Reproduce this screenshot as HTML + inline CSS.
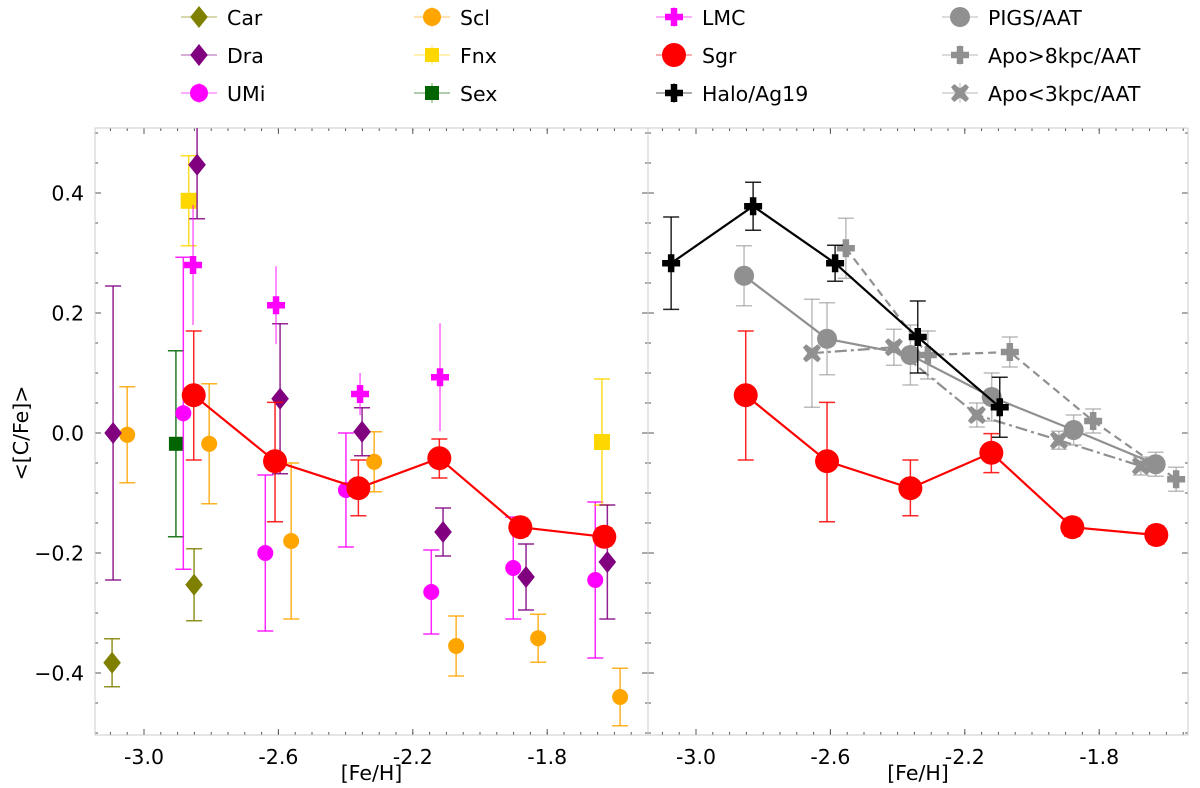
<!DOCTYPE html>
<html><head><meta charset="utf-8">
<style>
html,body{margin:0;padding:0;background:#fff;}
svg{display:block;font-family:"DejaVu Sans","Liberation Sans",sans-serif;}
</style></head>
<body>
<svg id="chart" width="1200" height="788" viewBox="0 0 1200 788" xmlns="http://www.w3.org/2000/svg"></svg>
<script>
// ---- data ----
const sgrX=[-2.852,-2.61,-2.362,-2.121,-1.88,-1.63];
const sgrYLeft=[0.063,-0.047,-0.092,-0.042,-0.157,-0.173];
const sgrYRight=[0.063,-0.047,-0.092,-0.033,-0.157,-0.170];
const sgrErrUp=[0.107,0.098,0.047,0.032,0.015,0.015];
const sgrErrDn=[0.108,0.101,0.046,0.033,0.015,0.015];
const carX=[-3.095,-2.851], carY=[-0.383,-0.253], carErr=[0.04,0.06];
const draX=[-3.092,-2.842,-2.595,-2.351,-2.11,-1.863,-1.621];
const draY=[0.0,0.447,0.057,0.002,-0.165,-0.24,-0.215];
const draErr=[0.245,0.09,0.125,0.04,0.04,0.055,0.095];
const umiX=[-2.883,-2.639,-2.399,-2.145,-1.901,-1.657];
const umiY=[0.033,-0.2,-0.095,-0.265,-0.225,-0.245];
const umiErr=[0.26,0.13,0.095,0.07,0.085,0.13];
const sclX=[-3.05,-2.806,-2.562,-2.315,-2.071,-1.827,-1.583];
const sclY=[-0.003,-0.018,-0.18,-0.048,-0.355,-0.342,-0.44];
const sclErr=[0.08,0.1,0.13,0.05,0.05,0.04,0.048];
const fnxX=[-2.867,-1.637], fnxY=[0.387,-0.015], fnxErr=[0.075,0.105];
const sexX=[-2.905], sexY=[-0.018], sexErr=[0.155];
const lmcX=[-2.854,-2.607,-2.357,-2.119], lmcY=[0.28,0.213,0.065,0.093], lmcErr=[0.1,0.065,0.035,0.09];
const haloX=[-3.074,-2.83,-2.586,-2.34,-2.096], haloY=[0.283,0.378,0.283,0.16,0.043];
const haloErr=[0.077,0.04,0.03,0.06,0.05];
const pigsX=[-2.857,-2.61,-2.362,-2.12,-1.876,-1.632], pigsY=[0.262,0.157,0.13,0.06,0.005,-0.052];
const pigsErr=[0.05,0.06,0.05,0.04,0.025,0.02];
const apoHiX=[-2.554,-2.31,-2.066,-1.818,-1.571], apoHiY=[0.308,0.13,0.135,0.02,-0.077];
const apoHiErr=[0.05,0.04,0.025,0.02,0.02];
const apoLoX=[-2.655,-2.411,-2.164,-1.92,-1.676], apoLoY=[0.133,0.143,0.03,-0.012,-0.055];
const apoLoErr=[0.09,0.03,0.02,0.015,0.015];
const xTicks=[-3.0,-2.6,-2.2,-1.8];
const yTicks=[0.4,0.2,0.0,-0.2,-0.4];

// ---- geometry ----
const svg=document.getElementById('chart');
const NS='http://www.w3.org/2000/svg';
const plotTop=128,plotBot=735;
const yMap=v=>433-600*v;
const panels=[{x0:95,x1:648,ref:144,name:'left'},{x0:648,x1:1188,ref:696,name:'right'}];
const xf=p=>v=>p.ref+(v+3)*336;
function el(tag,attrs,parent){const e=document.createElementNS(NS,tag);for(const k in attrs)e.setAttribute(k,attrs[k]);(parent||svg).appendChild(e);return e;}

function marker(g,type,cx,cy,color,s){
  let e;
  if(type==='circle') e=el('circle',{cx,cy,r:s,fill:color},g);
  else if(type==='diamond') e=el('polygon',{points:`${cx},${cy-s} ${cx+s*0.8},${cy} ${cx},${cy+s} ${cx-s*0.8},${cy}`,fill:color},g);
  else if(type==='square') e=el('rect',{x:cx-s,y:cy-s,width:2*s,height:2*s,fill:color},g);
  else if(type==='plus'){const t=s*0.36;e=el('path',{d:`M${cx-t},${cy-s}h${2*t}v${s-t}h${s-t}v${2*t}h${-(s-t)}v${s-t}h${-2*t}v${-(s-t)}h${-(s-t)}v${-2*t}h${s-t}z`,fill:color},g);}
  else if(type==='x'){const t=s*0.36;e=el('path',{d:`M${cx},${cy-t*1.4}L${cx+s-t},${cy-s}L${cx+s},${cy-s+t}L${cx+t*1.4},${cy}L${cx+s},${cy+s-t}L${cx+s-t},${cy+s}L${cx},${cy+t*1.4}L${cx-s+t},${cy+s}L${cx-s},${cy+s-t}L${cx-t*1.4},${cy}L${cx-s},${cy-s+t}L${cx-s+t},${cy-s}z`,fill:color},g);}
  return e;
}
function series(p,name,X,Y,EU,ED,type,color,size,opts){
  opts=opts||{};const X2=xf(p);
  const g=el('g',{'clip-path':`url(#clip-${p.name})`});
  
  
  const ecol=opts.ecolor||color;
  X.forEach((xv,i)=>{
    const cx=X2(xv),y1=yMap(Y[i]+EU[i]),y2=yMap(Y[i]-ED[i]);
    el('line',{x1:cx,x2:cx,y1,y2,stroke:ecol,'stroke-width':opts.ew||1.5,opacity:opts.eop||0.85},g);
    if(!opts.nocap){
      el('line',{x1:cx-8,x2:cx+8,y1:y1,y2:y1,stroke:ecol,'stroke-width':1.5,opacity:opts.eop||0.85},g);
      el('line',{x1:cx-8,x2:cx+8,y1:y2,y2:y2,stroke:ecol,'stroke-width':1.5,opacity:opts.eop||0.85},g);
    }
  });
  if(opts.line){
    const l=el('polyline',{points:X.map((xv,i)=>X2(xv)+','+yMap(Y[i])).join(' '),fill:'none',stroke:opts.lcolor||color,'stroke-width':2.2,'stroke-dasharray':opts.dash||'none'},g);
    
    
  }
  X.forEach((xv,i)=>{
    const m=marker(g,type,X2(xv),yMap(Y[i]),color,size);
    
    
  });
}

const defs=el('defs',{});
panels.forEach(p=>{
  const cp=el('clipPath',{id:'clip-'+p.name},defs);
  el('rect',{x:p.x0,y:plotTop,width:p.x1-p.x0,height:plotBot-plotTop},cp);
  const X2=xf(p);
  const tg=el('g',{stroke:'#555','stroke-width':1});
  for(let k=-70;k<=-30;k++){const v=k*0.05;const px=X2(v);if(px<p.x0+1||px>p.x1-1)continue;
    el('line',{x1:px,x2:px,y1:plotBot,y2:plotBot-3},tg);el('line',{x1:px,x2:px,y1:plotTop,y2:plotTop+3},tg);}
  xTicks.forEach(v=>{const px=X2(v);el('line',{x1:px,x2:px,y1:plotBot,y2:plotBot-6},tg);el('line',{x1:px,x2:px,y1:plotTop,y2:plotTop+6},tg);
    const t=el('text',{x:px,y:plotBot+29,'text-anchor':'middle','font-size':20.5,fill:'#000',stroke:'none'});t.textContent='-'+Math.abs(v).toFixed(1);
    
    });
  for(let k=-10;k<=10;k++){const v=k*0.05;const py=yMap(v);if(py<plotTop+1||py>plotBot-1)continue;
    el('line',{x1:p.x0,x2:p.x0+3,y1:py,y2:py},tg);el('line',{x1:p.x1,x2:p.x1-3,y1:py,y2:py},tg);}
  yTicks.forEach(v=>{const py=yMap(v);el('line',{x1:p.x0,x2:p.x0+6,y1:py,y2:py},tg);el('line',{x1:p.x1,x2:p.x1-6,y1:py,y2:py},tg);
    if(p.name==='left'){const t=el('text',{x:84,y:py+7.5,'text-anchor':'end','font-size':20.5,fill:'#000',stroke:'none'});t.textContent=(v<0?'\u2212':'')+Math.abs(v).toFixed(1);
    
    }});
  const xl=el('text',{x:(p.x0+p.x1)/2,y:780,'text-anchor':'middle','font-size':20.5});xl.textContent='[Fe/H]';
  
  
});
const fr=el('rect',{x:95,y:plotTop,width:1093,height:plotBot-plotTop,fill:'none',stroke:'#ccc','stroke-width':1});


el('line',{x1:648,x2:648,y1:plotTop,y2:plotBot,stroke:'#ccc','stroke-width':1});
const yl=el('text',{x:0,y:0,'text-anchor':'middle','font-size':20.5,transform:'translate(28,433) rotate(-90)'});yl.textContent='<[C/Fe]>';



const L=panels[0],R=panels[1];
series(L,'car',carX,carY,carErr,carErr,'diamond','#808000',11);
series(L,'sex',sexX,sexY,sexErr,sexErr,'square','#006400',7);
series(L,'umi',umiX,umiY,umiErr,umiErr,'circle','#ff00ff',8);
series(L,'scl',sclX,sclY,sclErr,sclErr,'circle','#ffa500',8);
series(L,'fnx',fnxX,fnxY,fnxErr,fnxErr,'square','#ffd700',8);
series(L,'dra',draX,draY,draErr,draErr,'diamond','#800080',11);
series(L,'lmc',lmcX,lmcY,lmcErr,lmcErr,'plus','#ff00ff',9,{nocap:true,eop:0.6});
series(L,'sgr-left',sgrX,sgrYLeft,sgrErrUp,sgrErrDn,'circle','#ff0000',12,{line:true});
series(R,'apo-lt-3kpc',apoLoX,apoLoY,apoLoErr,apoLoErr,'x','#909090',9,{line:true,dash:'12 4 3 4',eop:0.6});
series(R,'apo-gt-8kpc',apoHiX,apoHiY,apoHiErr,apoHiErr,'plus','#909090',9,{line:true,dash:'8 5',eop:0.6});
series(R,'pigs',pigsX,pigsY,pigsErr,pigsErr,'circle','#909090',10,{line:true,eop:0.6});
series(R,'halo',haloX,haloY,haloErr,haloErr,'plus','#000000',9,{line:true});
series(R,'sgr-right',sgrX,sgrYRight,sgrErrUp,sgrErrDn,'circle','#ff0000',12,{line:true});

const legend=[
 ['Car','diamond','#808000',199,17],['Dra','diamond','#800080',199,55],['UMi','circle','#ff00ff',199,93],
 ['Scl','circle','#ffa500',432,17],['Fnx','square','#ffd700',432,55],['Sex','square','#006400',432,93],
 ['LMC','plus','#ff00ff',674,17],['Sgr','circle','#ff0000',674,55],['Halo/Ag19','plus','#000000',674,93],
 ['PIGS/AAT','circle','#909090',960,17],['Apo>8kpc/AAT','plus','#909090',960,55],['Apo<3kpc/AAT','x','#909090',960,93]];
const lg=el('g',{});


legend.forEach(([name,type,col,lx,ly])=>{
  const g=el('g',{},lg);
  
  
  el('line',{x1:lx-18,x2:lx+18,y1:ly,y2:ly,stroke:col,'stroke-width':1.2,opacity:0.5},g);
  el('line',{x1:lx,x2:lx,y1:ly-10,y2:ly+10,stroke:col,'stroke-width':1.2,opacity:0.5},g);
  const s=name==='Sgr'?12:(type==='diamond'?11:(type==='square'?7:(type==='circle'&&col=='#909090'?10:9)));
  marker(g,type,lx,ly,col,s);
  const t=el('text',{x:lx+28,y:ly+8,'font-size':20.5},g);t.textContent=name;
});
</script>
</body></html>
